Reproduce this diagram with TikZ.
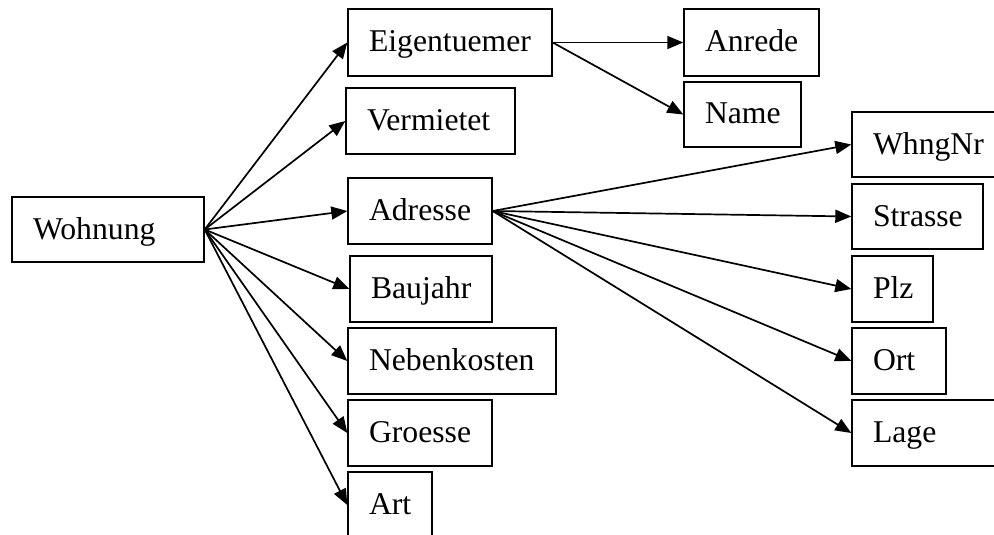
\documentclass[tikz,border=0pt]{standalone}
\usepackage{fontspec}
\setmainfont{Liberation Serif}
\usetikzlibrary{arrows.meta}
\tikzset{
  box/.style={draw, line width=1.4pt, rectangle, inner xsep=21pt, inner ysep=0pt,
    align=left, font=\fontsize{31.7}{36}\selectfont, text height=24pt, text depth=5pt},
  link/.style={line width=1.7pt, -{Triangle[length=16pt,width=13pt]}}
}
\newcommand{\bx}[6]{\node[box, text width=#4pt-42pt, minimum height=#5pt] (#1) at (#2,#3) {#6};}
\begin{document}
\begin{tikzpicture}[x=1pt,y=-1pt]
\fill[white] (0,0) rectangle (994,535);
\useasboundingbox (0,0) rectangle (994,535);
\clip (0,0) rectangle (994,535);
\bx{w}{108}{229.5}{192}{65}{Wohnung}
\bx{eig}{450}{42.5}{204}{67}{Eigentuemer}
\bx{verm}{430.5}{121}{169}{66}{Vermietet}
\bx{adr}{420}{211}{144}{66}{Adresse}
\bx{bau}{421}{289}{142}{66}{Baujahr}
\bx{neb}{452}{361}{208}{66}{Nebenkosten}
\bx{gro}{420}{433}{144}{66}{Groesse}
\bx{art}{390}{505}{84}{66}{Art}
\bx{anr}{751.5}{42.5}{135}{67}{Anrede}
\bx{name}{742.5}{114.5}{117}{65}{Name}
\bx{whng}{927}{144.5}{150}{65}{WhngNr}
\bx{str}{917.5}{216.5}{131}{65}{Strasse}
\bx{plz}{892.5}{289}{81}{66}{Plz}
\bx{ort}{899}{361}{94}{66}{Ort}
\bx{lage}{927}{433}{150}{66}{Lage}
\foreach \t in {eig,verm,adr,bau,neb,gro,art}
  \draw[link] (w.east) -- (\t.west);
\foreach \t in {anr,name}
  \draw[link] (eig.east) -- (\t.west);
\foreach \t in {whng,str,plz,ort,lage}
  \draw[link] (adr.east) -- (\t.west);
\end{tikzpicture}
\end{document}
